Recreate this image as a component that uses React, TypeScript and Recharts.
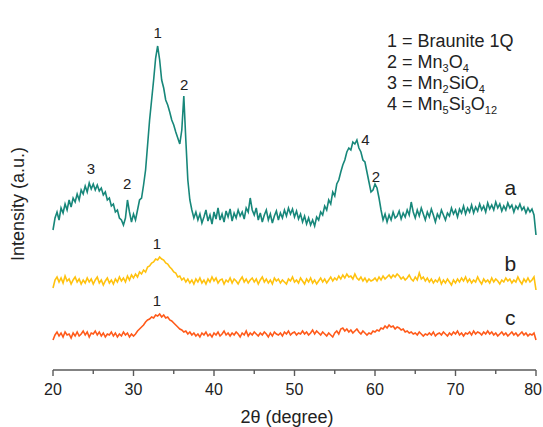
import { LineChart, Line, XAxis, YAxis, ReferenceDot } from "recharts";

// 2θ grid: 20..80 every 0.25°
const START = 20;
const STEP = 0.25;

// intensities (a.u.); offsets between patterns kept as plotted
const seriesA = [
  140, 152, 158, 150, 162, 157, 166, 160, 170, 163, 172, 168, 176, 170, 180, 176,
  184, 178, 187, 181, 186, 180, 185, 179, 182, 175, 178, 170, 172, 164, 166, 158,
  160, 152, 150, 145, 152, 170, 158, 148, 156, 150, 160, 170, 172, 185, 200, 225,
  250, 270, 290, 312, 324, 310, 290, 282, 270, 265, 258, 250, 245, 238, 232, 226,
  240, 274, 230, 190, 170, 160, 152, 158, 150, 156, 147, 153, 160, 149, 155, 146,
  158, 151, 162, 150, 156, 148, 159, 153, 161, 149, 157, 152, 160, 154, 158, 151,
  162, 158, 172, 160, 155, 162, 150, 157, 148, 155, 160, 150, 156, 147, 154, 159,
  150, 157, 152, 160, 154, 162, 156, 161, 153, 159, 151, 156, 148, 154, 146, 152,
  145, 150, 144, 153, 150, 158, 155, 164, 160, 170, 166, 178, 174, 186, 190, 198,
  205, 210, 218, 222, 220, 228, 226, 230, 222, 218, 210, 208, 198, 188, 178, 180,
  186, 182, 172, 160, 150, 156, 148, 155, 150, 158, 152, 154, 159, 151, 157, 153,
  160, 155, 168, 158, 152, 160, 154, 162, 156, 150, 158, 153, 161, 155, 148, 156,
  152, 160, 155, 150, 157, 154, 162, 156, 160, 153, 161, 157, 164, 156, 162, 158,
  165, 157, 163, 159, 166, 160, 164, 158, 167, 161, 165, 160, 168, 162, 166, 159,
  164, 160, 167, 162, 165, 158, 164, 161, 166, 160, 163, 157, 162, 158, 161, 155,
  135,
];

const seriesB = [
  82, 90, 93, 88, 92, 87, 94, 89, 91, 86, 90, 93, 88, 91, 86, 90,
  87, 92, 88, 91, 86, 90, 93, 87, 90, 85, 89, 92, 87, 90, 86, 91,
  88, 93, 89, 92, 88, 94, 90, 95, 92, 96, 93, 98, 96, 100, 98, 103,
  104, 107, 108, 111, 110, 113, 111, 110, 107, 106, 103, 101, 98, 97, 93, 94,
  90, 92, 88, 91, 87, 90, 86, 91, 88, 92, 87, 90, 86, 91, 88, 93,
  89, 92, 87, 90, 91, 86, 90, 88, 92, 87, 91, 89, 86, 90, 93, 88,
  91, 87, 90, 92, 88, 91, 86, 90, 93, 88, 91, 87, 90, 86, 92, 89,
  91, 87, 90, 88, 86, 91, 89, 93, 88, 90, 87, 92, 89, 86, 91, 88,
  92, 87, 90, 86, 89, 92, 88, 91, 87, 90, 93, 89, 92, 90, 94, 91,
  95, 92, 96, 93, 94, 91, 96, 92, 90, 93, 89, 92, 88, 91, 89, 90,
  92, 89, 93, 90, 94, 91, 93, 95, 92, 95, 93, 96, 94, 91, 93, 90,
  92, 95, 91, 89, 93, 90, 97, 91, 93, 89, 92, 88, 91, 87, 90, 88,
  92, 86, 90, 87, 91, 88, 85, 90, 87, 91, 88, 92, 89, 93, 88, 91,
  87, 90, 88, 93, 89, 86, 91, 88, 90, 87, 92, 88, 91, 89, 86, 90,
  88, 92, 89, 91, 87, 90, 88, 93, 89, 86, 91, 88, 92, 88, 90, 93,
  80,
];

const seriesC = [
  30, 35, 38, 34, 37, 33, 38, 35, 36, 32, 37, 34, 38, 34, 36, 39,
  35, 38, 33, 37, 36, 39, 35, 38, 34, 37, 33, 36, 35, 38, 34, 37,
  33, 36, 34, 38, 35, 37, 33, 36, 34, 36, 39, 41, 43, 45, 48, 50,
  51, 53, 52, 55, 54, 56, 53, 55, 52, 53, 50, 49, 47, 45, 43, 41,
  40, 38, 39, 36, 38, 35, 37, 34, 36, 33, 37, 35, 38, 34, 36, 33,
  37, 35, 38, 34, 36, 39, 35, 37, 34, 37, 35, 38, 36, 33, 37, 35,
  39, 34, 37, 35, 38, 36, 34, 37, 35, 38, 36, 33, 37, 34, 38, 36,
  35, 37, 34, 38, 36, 39, 35, 37, 38, 35, 37, 36, 39, 36, 38, 35,
  37, 40, 36, 39, 37, 35, 38, 36, 34, 37, 35, 33, 37, 39, 36, 41,
  42, 39, 41, 38, 40, 37, 39, 41, 38, 36, 39, 37, 35, 37, 36, 39,
  38, 40, 39, 42, 41, 44, 42, 45, 43, 44, 41, 43, 42, 40, 41, 38,
  39, 37, 38, 36, 37, 35, 38, 36, 34, 36, 35, 37, 35, 38, 34, 36,
  37, 35, 38, 36, 34, 37, 35, 38, 36, 39, 35, 37, 34, 37, 36, 38,
  35, 39, 36, 38, 37, 35, 38, 36, 39, 36, 38, 35, 37, 34, 36, 38,
  35, 37, 34, 36, 38, 35, 37, 34, 36, 38, 35, 37, 34, 36, 35, 37,
  30,
];

const xTicks = [20, 25, 30, 35, 40, 45, 50, 55, 60, 65, 70, 75, 80];

// peak markers: [2θ, height, label]
const peakMarks: [number, number, string][] = [
  [33, 338, "1"],
  [36.3, 286, "2"],
  [24.7, 202, "3"],
  [29.2, 187, "2"],
  [58.8, 231, "4"],
  [60.1, 194, "2"],
  [32.9, 127, "1"],
  [32.9, 70, "1"],
];
const curveNames: [number, number, string][] = [
  [76.8, 183, "a"],
  [76.8, 107, "b"],
  [76.8, 53, "c"],
];

const data = seriesA.map((a, i) => ({
  x: START + i * STEP,
  a,
  b: seriesB[i],
  c: seriesC[i],
}));

const FONT = "'Liberation Sans', Arial, sans-serif";
const AXIS = "#5a5a5a";

type TickProps = { x?: number; y?: number; payload?: { value?: number } };

function TwoThetaTick({ x = 0, y = 0, payload }: TickProps) {
  const v = payload?.value ?? 0;
  const major = v % 10 === 0;
  // last label sits on the page edge, pull it in so it is not clipped
  const last = v === xTicks[xTicks.length - 1];
  return (
    <g>
      <line x1={x} x2={x} y1={y} y2={y + (major ? 6 : 4)} stroke={AXIS} strokeWidth={1.4} />
      {major && (
        <text
          x={last ? x + 6 : x}
          y={y + 19}
          textAnchor={last ? "end" : "middle"}
          dominantBaseline="central"
          fontFamily={FONT}
          fontSize={16}
          fill="#222"
        >
          {v}
        </text>
      )}
    </g>
  );
}

function markShape(label: string, size: number) {
  return (p: { cx?: number; cy?: number }) => (
    <text x={p.cx} y={p.cy} textAnchor="middle" dominantBaseline="central" fontFamily={FONT} fontSize={size} fill="#222">
      {label}
    </text>
  );
}

export default function App() {
  return (
    <div style={{ position: "absolute", left: 0, top: 0, background: "#fff" }}>
      <LineChart width={543} height={427} data={data} margin={{ top: 14, right: 7, bottom: 0, left: 53 }}>
        <XAxis
          dataKey="x"
          type="number"
          domain={[20, 80]}
          ticks={xTicks}
          interval={0}
          tickSize={0}
          tickMargin={0}
          tickLine={false}
          height={57}
          axisLine={{ stroke: AXIS, strokeWidth: 1.5 }}
          tick={<TwoThetaTick />}
        />
        <XAxis xAxisId="top" orientation="top" type="number" domain={[20, 80]} height={0} tick={false} tickLine={false} axisLine={{ stroke: "#333", strokeWidth: 1.5 }} />
        <YAxis domain={[0, 356]} width={0} tick={false} tickLine={false} axisLine={{ stroke: AXIS, strokeWidth: 1.5 }} />
        <YAxis yAxisId="right" orientation="right" domain={[0, 356]} width={0} tick={false} tickLine={false} axisLine={{ stroke: "#333", strokeWidth: 1.5 }} />
        <Line dataKey="a" stroke="#17877a" strokeWidth={1.6} dot={false} isAnimationActive={false} />
        <Line dataKey="b" stroke="#ffc20e" strokeWidth={1.6} dot={false} isAnimationActive={false} />
        <Line dataKey="c" stroke="#ff5a1a" strokeWidth={1.6} dot={false} isAnimationActive={false} />
        {peakMarks.map(([x, y, t], i) => (
          <ReferenceDot key={"p" + i} x={x} y={y} r={0} shape={markShape(t, 15)} />
        ))}
        {curveNames.map(([x, y, t], i) => (
          <ReferenceDot key={"n" + i} x={x} y={y} r={0} shape={markShape(t, 21)} />
        ))}
        <text x={18} y={204} transform="rotate(-90 18 204)" textAnchor="middle" dominantBaseline="central" fontFamily={FONT} fontSize={18} fill="#222">
          Intensity (a.u.)
        </text>
        <text x={287} y={417} textAnchor="middle" dominantBaseline="central" fontFamily={FONT} fontSize={18} fill="#222">
          2θ (degree)
        </text>
        <g fontFamily={FONT} fontSize={18} fill="#222">
          <text x={387} y={47}>1 = Braunite 1Q</text>
          <text x={387} y={68}>
            2 = Mn<tspan fontSize={11} dy={4}>3</tspan>
            <tspan dy={-4}>O</tspan>
            <tspan fontSize={11} dy={4}>4</tspan>
          </text>
          <text x={387} y={89}>
            3 = Mn<tspan fontSize={11} dy={4}>2</tspan>
            <tspan dy={-4}>SiO</tspan>
            <tspan fontSize={11} dy={4}>4</tspan>
          </text>
          <text x={387} y={110}>
            4 = Mn<tspan fontSize={11} dy={4}>5</tspan>
            <tspan dy={-4}>Si</tspan>
            <tspan fontSize={11} dy={4}>3</tspan>
            <tspan dy={-4}>O</tspan>
            <tspan fontSize={11} dy={4}>12</tspan>
          </text>
        </g>
      </LineChart>
    </div>
  );
}
